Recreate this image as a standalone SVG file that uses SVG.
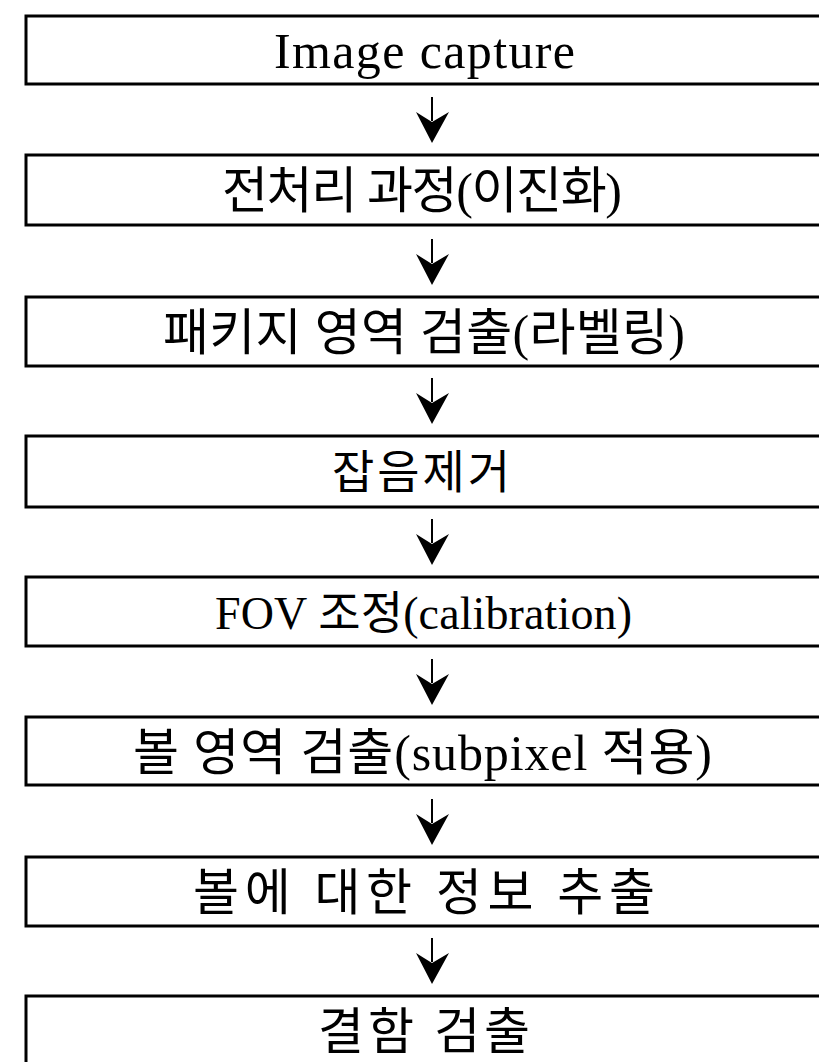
<svg xmlns="http://www.w3.org/2000/svg" xmlns:xlink="http://www.w3.org/1999/xlink" width="819" height="1062" viewBox="0 0 819 1062">
<style>
.box{fill:#fff;stroke:#000;stroke-width:3}
.lbl{font-family:"Liberation Serif","Noto Sans CJK KR",serif;font-size:50px;fill:#000}
.sm{font-size:46px}
.shaft{stroke:#000;stroke-width:2;fill:none}
.head{fill:#000;stroke:none}
</style>
<defs>
<g id="arr">
<line class="shaft" x1="0" y1="-46" x2="0" y2="-22"/>
<path class="head" d="M-16,-31 L0,-21 L17,-31 L0,0 Z"/>
</g>
</defs>
<rect width="819" height="1062" fill="#fff"/>
<g id="connectors">
<use xlink:href="#arr" x="432" y="143"/>
<use xlink:href="#arr" x="432" y="285"/>
<use xlink:href="#arr" x="432" y="424"/>
<use xlink:href="#arr" x="432" y="565"/>
<use xlink:href="#arr" x="432" y="705"/>
<use xlink:href="#arr" x="432" y="845"/>
<use xlink:href="#arr" x="432" y="984"/>
</g>
<g id="n1"><rect class="box" x="26" y="16" width="820" height="68"/><text class="lbl" x="274" y="68" textLength="301" lengthAdjust="spacing">Image capture</text></g>
<g id="n2"><rect class="box" x="26" y="155" width="820" height="70"/><text class="lbl" x="222" y="208" textLength="400" lengthAdjust="spacing">전처리 과정(이진화)</text></g>
<g id="n3"><rect class="box" x="26" y="297" width="820" height="69"/><text class="lbl" x="163" y="350" textLength="522" lengthAdjust="spacing">패키지 영역 검출(라벨링)</text></g>
<g id="n4"><rect class="box" x="26" y="436" width="820" height="71"/><text class="lbl sm" x="332" y="488" textLength="178" lengthAdjust="spacing">잡음제거</text></g>
<g id="n5"><rect class="box" x="26" y="577" width="820" height="69"/><text class="lbl sm" x="215" y="629" textLength="417" lengthAdjust="spacing">FOV 조정(calibration)</text></g>
<g id="n6"><rect class="box" x="26" y="717" width="820" height="68"/><text class="lbl" x="133" y="770" textLength="579" lengthAdjust="spacing">볼 영역 검출(subpixel 적용)</text></g>
<g id="n7"><rect class="box" x="26" y="857" width="820" height="69"/><text class="lbl" x="193" y="910" textLength="462" lengthAdjust="spacing">볼에 대한 정보 추출</text></g>
<g id="n8"><rect class="box" x="26" y="996" width="820" height="80"/><text class="lbl" x="318" y="1049" textLength="212" lengthAdjust="spacing">결함 검출</text></g>
</svg>
